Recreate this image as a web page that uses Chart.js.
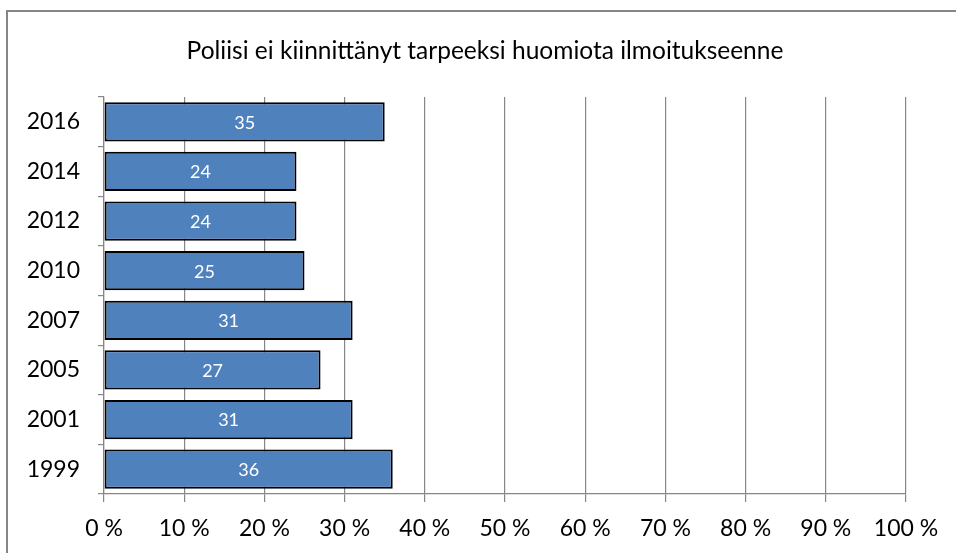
<!DOCTYPE html>
<html>
<head>
<meta charset="utf-8">
<script src="https://cdn.jsdelivr.net/npm/chart.js@4"></script>
<style>
  html, body { margin: 0; padding: 0; background: #ffffff; }
  #wrap { width: 956px; height: 553px; }
</style>
</head>
<body>
<div id="wrap"><canvas id="c" width="956" height="553"></canvas></div>
<script>
// Survey years (top to bottom) and share of respondents, %
const years = ['2016', '2014', '2012', '2010', '2007', '2005', '2001', '1999'];
const shares = [35, 24, 24, 25, 31, 27, 31, 36];
const xTickLabels = ['0 %', '10 %', '20 %', '30 %', '40 %', '50 %', '60 %', '70 %', '80 %', '90 %', '100 %'];
const titleText = 'Poliisi ei kiinnittänyt tarpeeksi huomiota ilmoitukseenne';

const FONT = 'Lato, "Open Sans", sans-serif';
const GRID = '#868686';

// Frame around the chart and the heading above the plot
const framePlugin = {
  id: 'frame',
  beforeDraw(chart) {
    const ctx = chart.ctx;
    ctx.save();
    ctx.fillStyle = '#ffffff';
    ctx.fillRect(0, 0, chart.width, chart.height);
    ctx.strokeStyle = GRID;
    ctx.lineWidth = 2;
    ctx.strokeRect(7, 11, 1200, 1200);
    ctx.fillStyle = '#000000';
    ctx.font = '24.5px ' + FONT;
    ctx.textAlign = 'center';
    ctx.textBaseline = 'alphabetic';
    ctx.fillText(titleText, 485, 59);
    ctx.restore();
  }
};

// Value labels centred inside each bar
const barLabels = {
  id: 'barLabels',
  afterDatasetsDraw(chart) {
    const ctx = chart.ctx;
    const meta = chart.getDatasetMeta(0);
    ctx.save();
    ctx.fillStyle = '#ffffff';
    ctx.font = '18px ' + FONT;
    ctx.textAlign = 'center';
    ctx.textBaseline = 'middle';
    meta.data.forEach((bar, i) => {
      const x = (bar.base + bar.x) / 2;
      ctx.fillText(String(shares[i]), x, bar.y + 1);
    });
    ctx.restore();
  }
};

new Chart(document.getElementById('c'), {
  type: 'bar',
  data: {
    labels: years,
    datasets: [{
      data: shares,
      backgroundColor: '#4F81BD',
      borderColor: '#000000',
      borderWidth: 2,
      borderSkipped: false,
      barPercentage: 0.79,
      categoryPercentage: 1
    }]
  },
  options: {
    indexAxis: 'y',
    responsive: false,
    animation: false,
    layout: { padding: { left: 0, right: 50, top: 97, bottom: 0 } },
    plugins: {
      legend: { display: false },
      tooltip: { enabled: false },
      title: { display: false }
    },
    scales: {
      x: {
        min: 0,
        max: 100,
        afterFit(scale) { scale.height = 59; },
        ticks: {
          stepSize: 10,
          color: '#000000',
          font: { family: FONT, size: 23 },
          padding: 13,
          callback: (v, i) => xTickLabels[i]
        },
        grid: { color: GRID, lineWidth: 1.2, tickLength: 8, drawOnChartArea: true },
        border: { color: GRID, width: 1.2 }
      },
      y: {
        afterFit(scale) { scale.width = 104; },
        ticks: {
          color: '#000000',
          font: { family: FONT, size: 23 },
          padding: 18
        },
        grid: { color: GRID, lineWidth: 1.2, tickLength: 6, drawOnChartArea: false, offset: true },
        border: { color: GRID, width: 1.2 }
      }
    }
  },
  plugins: [framePlugin, barLabels]
});
</script>
</body>
</html>
